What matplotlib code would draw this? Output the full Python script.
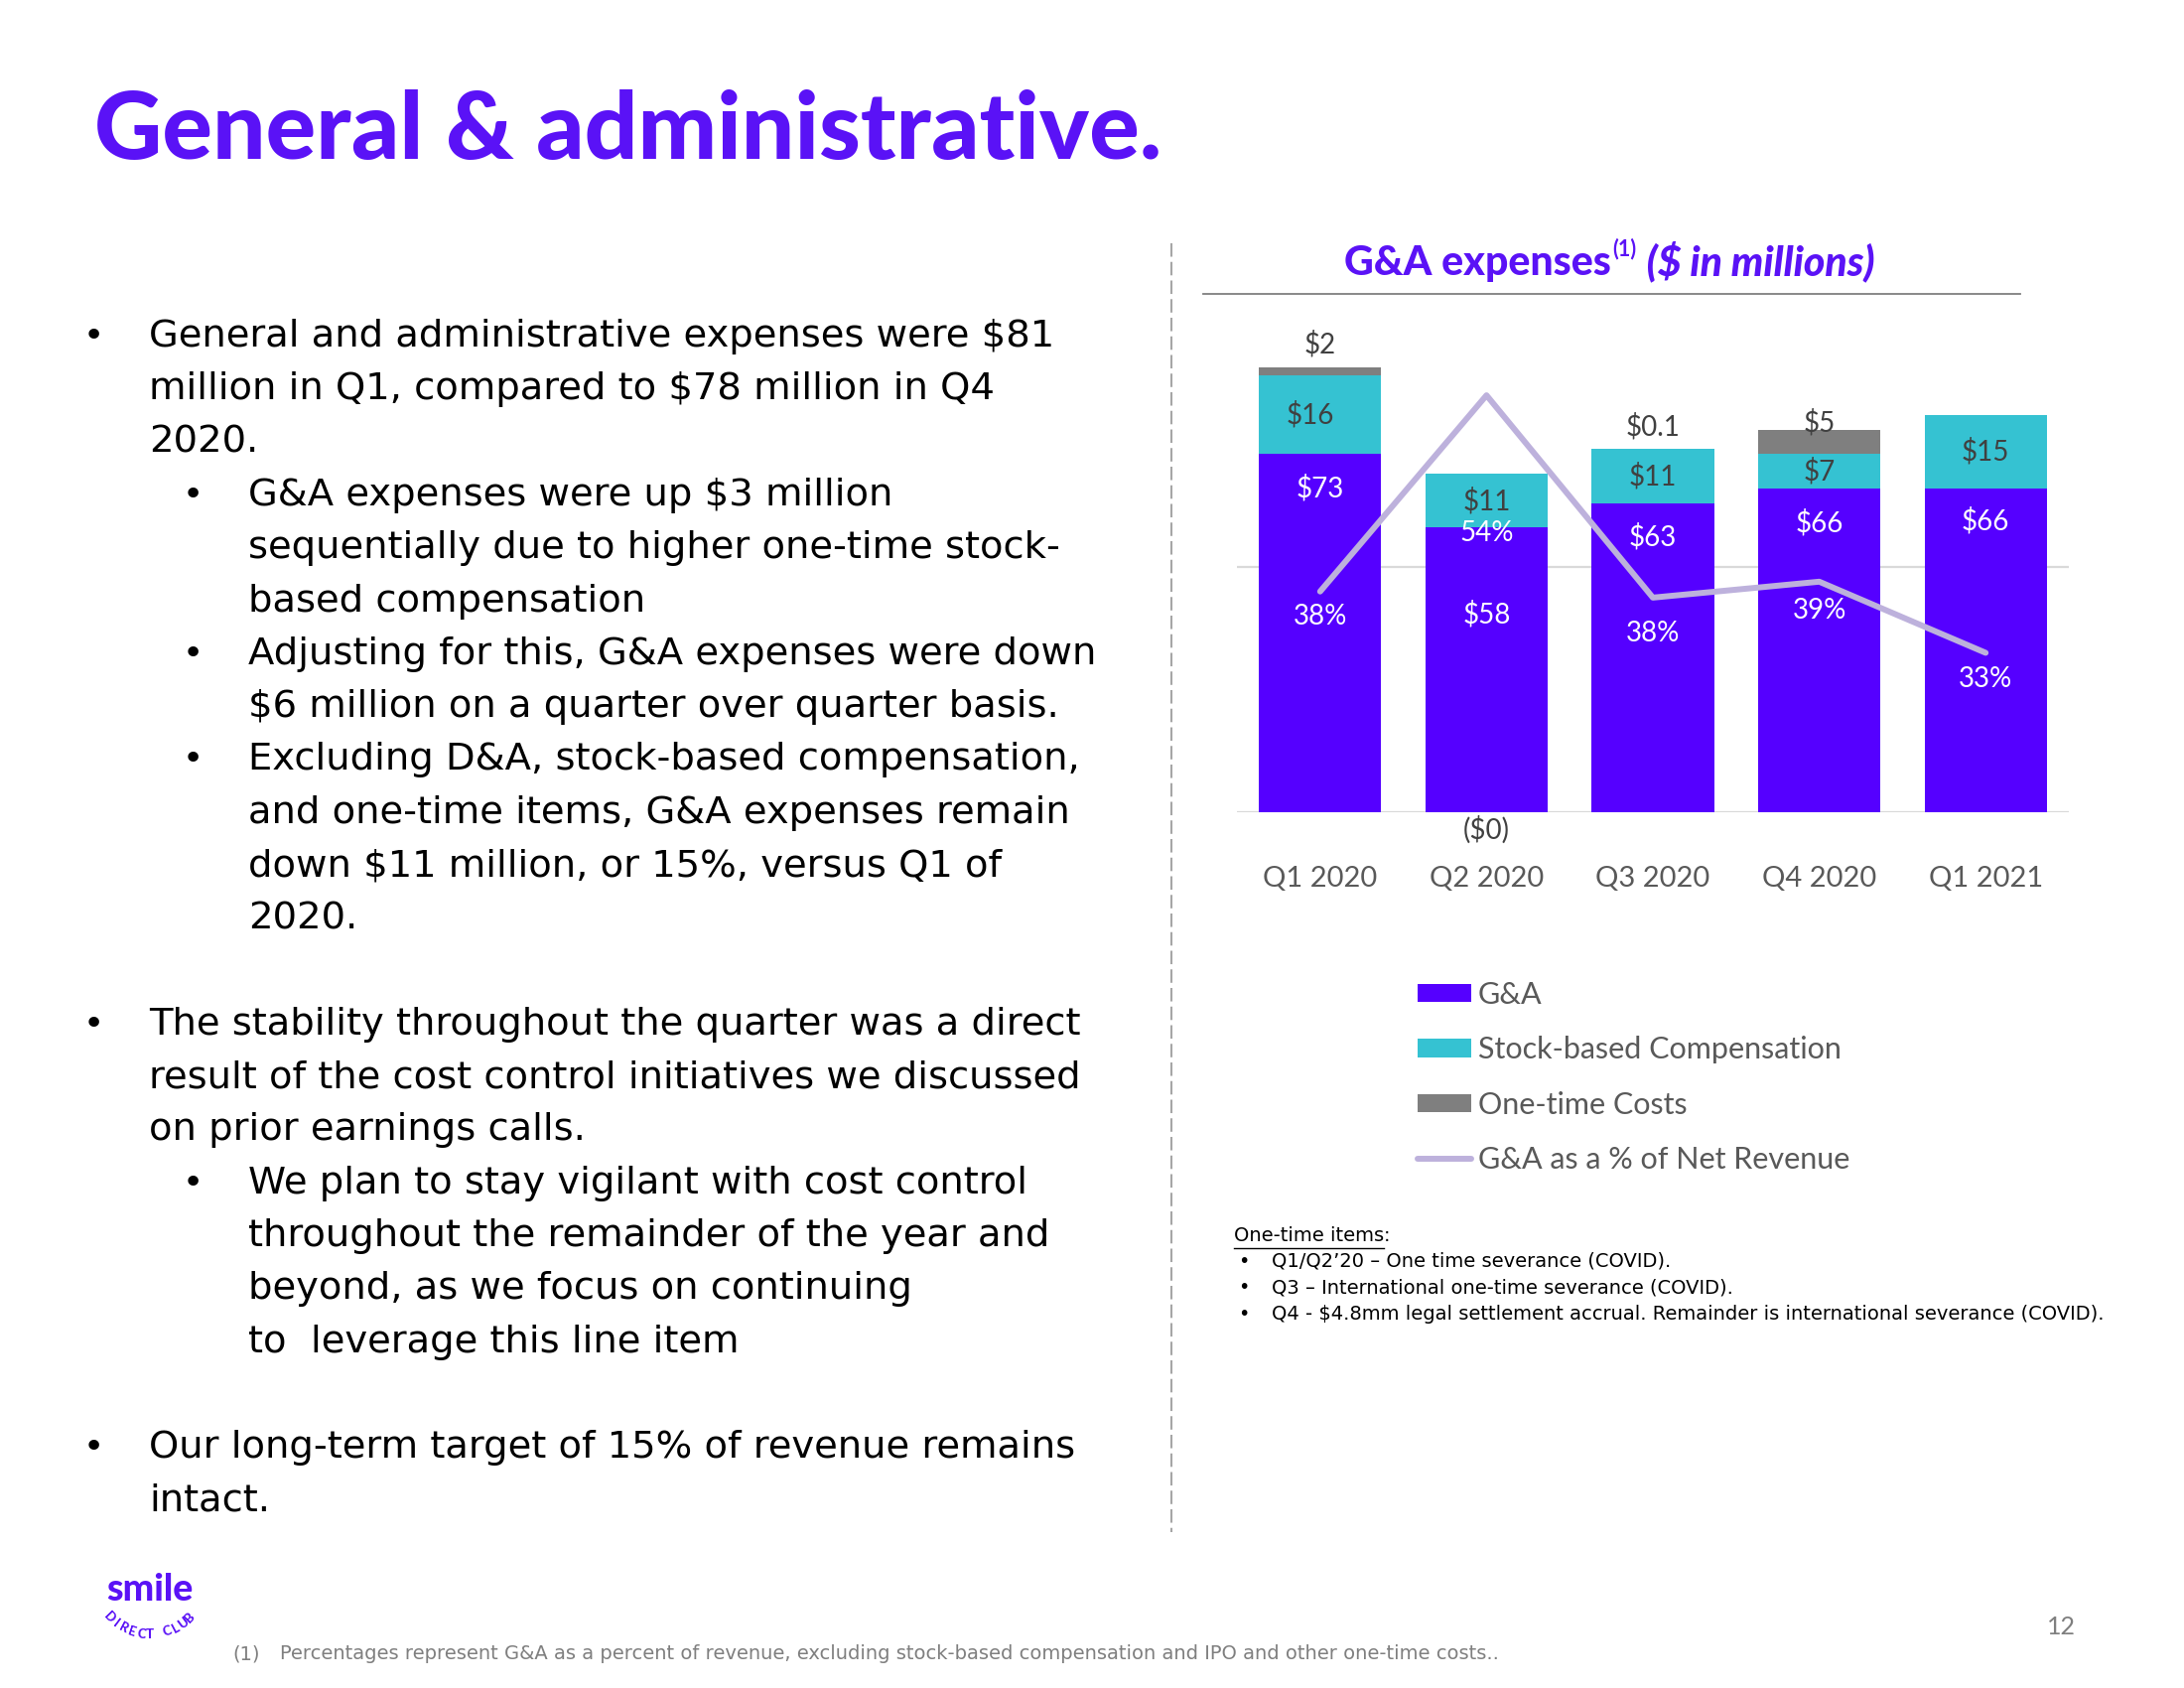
import matplotlib
matplotlib.use("Agg")
import matplotlib.pyplot as plt
import numpy as np
from matplotlib.lines import Line2D

W, H = 2200, 1700

# chart data
quarters = ["Q1 2020", "Q2 2020", "Q3 2020", "Q4 2020", "Q1 2021"]
ga = [73, 58, 63, 66, 66]
sbc = [16, 11, 11, 7, 15]
one_time = [1.6, 0.0, 0.1, 5, 0]
ga_pct = [38, 54, 37.5, 38.8, 33]

ga_labels = ["$73", "$58", "$63", "$66", "$66"]
sbc_labels = ["$16", "$11", "$11", "$7", "$15"]
one_time_labels = ["$2", "($0)", "$0.1", "$5", ""]
pct_labels = ["38%", "54%", "38%", "39%", "33%"]

series_names = ["G&A", "Stock-based Compensation", "One-time Costs", "G&A as a % of Net Revenue"]

bullets = [
    (0, ["General and administrative expenses were $81",
         "million in Q1, compared to $78 million in Q4",
         "2020."]),
    (1, ["G&A expenses were up $3 million",
         "sequentially due to higher one-time stock-",
         "based compensation"]),
    (1, ["Adjusting for this, G&A expenses were down",
         "$6 million on a quarter over quarter basis."]),
    (1, ["Excluding D&A, stock-based compensation,",
         "and one-time items, G&A expenses remain",
         "down $11 million, or 15%, versus Q1 of",
         "2020."]),
    None,
    (0, ["The stability throughout the quarter was a direct",
         "result of the cost control initiatives we discussed",
         "on prior earnings calls."]),
    (1, ["We plan to stay vigilant with cost control",
         "throughout the remainder of the year and",
         "beyond, as we focus on continuing",
         "to  leverage this line item"]),
    None,
    (0, ["Our long-term target of 15% of revenue remains",
         "intact."]),
]

one_time_notes = [
    "Q1/Q2\u201920 \u2013 One time severance (COVID).",
    "Q3 \u2013 International one-time severance (COVID).",
    "Q4 - $4.8mm legal settlement accrual. Remainder is international severance (COVID).",
]

PURPLE = "#5500FF"
TITLE_PURPLE = "#5A12F6"
CYAN = "#35C2D2"
GRAY = "#7F7F7F"
LAVENDER = "#BDB1DC"
DARK = "#404040"
MID = "#595959"


def fx(px):
    return px / W


def fy(py):
    return 1 - py / H


def px2pt(px):
    return px * 0.72


fig = plt.figure(figsize=(22, 17), dpi=100)
fig.patch.set_facecolor("white")

# page title
fig.text(fx(95), fy(160), "General & administrative.", fontsize=68, fontweight="black",
         family="Lato", color=TITLE_PURPLE, va="baseline")

# left column bullets
line_h = 53.3
y0 = 349
row = 0
for item in bullets:
    if item is None:
        row += 1
        continue
    level, lines = item
    bx, tx = (84, 150) if level == 0 else (184, 250)
    fig.text(fx(bx), fy(y0 + row * line_h), "\u2022", fontsize=26, family="DejaVu Sans",
             color="black", va="baseline")
    for line in lines:
        fig.text(fx(tx), fy(y0 + row * line_h), line, fontsize=27.7, family="DejaVu Sans",
                 color="black", va="baseline", parse_math=False)
        row += 1

# dashed separator
fig.add_artist(Line2D([fx(1180), fx(1180)], [fy(245), fy(1543)], transform=fig.transFigure,
                      color="#A6A6A6", lw=1.5, linestyle=(0, (6.5, 2.5))))

# chart
ax = fig.add_axes([fx(1246), fy(818), (2084 - 1246) / W, (818 - 324) / H])
x = np.arange(len(quarters))
width = 0.734
ga_bars = ax.bar(x, ga, width, color=PURPLE, label=series_names[0], zorder=2)
sbc_bars = ax.bar(x, sbc, width, bottom=ga, color=CYAN, label=series_names[1], zorder=2)
top2 = np.add(ga, sbc)
ot_bars = ax.bar(x, one_time, width, bottom=top2, color=GRAY, label=series_names[2], zorder=2)
ax.set_ylim(0, 100)
ax.set_xlim(-0.5, len(quarters) - 0.5)
ax.set_yticks([0, 50])
ax.yaxis.grid(True, color="#D9D9D9", lw=1.6)
ax.set_axisbelow(True)
ax.set_xticks(x, quarters)
ax.tick_params(axis="x", length=0, pad=px2pt(54), labelsize=21, labelcolor=MID)
for lab in ax.get_xticklabels():
    lab.set_family("Lato")
for s in ax.spines.values():
    s.set_visible(False)

ax2 = ax.twinx()
ax2.set_ylim(20, 60)
pct_line, = ax2.plot(x, ga_pct, color=LAVENDER, lw=4.3, solid_capstyle="round",
                     solid_joinstyle="round", label=series_names[3])
ax2.set_yticks([])
for s in ax2.spines.values():
    s.set_visible(False)
ax.tick_params(axis="y", left=False, right=False, labelleft=False, labelright=False)

lab_kw = dict(textcoords="offset points", ha="center", va="center", fontsize=20,
              family="Lato", parse_math=False, annotation_clip=False)

ga_drop = [34, 87, 34, 35, 33]
for i in range(len(x)):
    ax.annotate(ga_labels[i], (x[i], ga[i]), xytext=(0, -px2pt(ga_drop[i])), color="white", **lab_kw)
    ax.annotate(sbc_labels[i], (x[i], ga[i] + sbc[i] / 2), xytext=(-px2pt(10) if i == 0 else 0, 0),
                color=DARK, **lab_kw)

ot_rise = [24, -18, 22, 7, 0]
for i in range(len(x)):
    if not one_time_labels[i]:
        continue
    base = 0 if one_time_labels[i].startswith("(") else top2[i] + one_time[i]
    ax.annotate(one_time_labels[i], (x[i], base), xytext=(0, px2pt(ot_rise[i])), color=DARK, **lab_kw)

pct_drop = [25, 139, 36, 29, 27]
for i in range(len(x)):
    ax2.annotate(pct_labels[i], (x[i], ga_pct[i]), xytext=(0, -px2pt(pct_drop[i])), color="white", **lab_kw)

# chart title
t1 = ax.annotate("G&A expenses", xy=(fx(1354), fy(277)), xycoords="figure fraction", fontsize=29.5,
                 fontweight="black", family="Lato", color=TITLE_PURPLE, va="baseline", ha="left")
t2 = ax.annotate("(1)", xy=(1, 0), xycoords=t1, xytext=(1, 16), textcoords="offset points",
                 fontsize=15.5, fontweight="bold", family="Lato", color=TITLE_PURPLE, va="bottom", ha="left")
ax.annotate(" ($ in millions)", xy=(1, 0), xycoords=t2, xytext=(1, -16), textcoords="offset points",
            fontsize=29.5, fontweight="black", fontstyle="italic", family="Lato", color=TITLE_PURPLE,
            va="bottom", ha="left", parse_math=False)
fig.add_artist(Line2D([fx(1212), fx(2035)], [fy(296), fy(296)], transform=fig.transFigure,
                      color="#7F7F7F", lw=1.3))

# legend
leg = fig.legend(handles=[ga_bars, sbc_bars, ot_bars, pct_line], loc="center left",
                 bbox_to_anchor=(fx(1428), fy(1085)), frameon=False,
                 prop={"family": "Lato", "size": 22}, labelcolor=MID, handlelength=1.77,
                 handleheight=0.56, handletextpad=0.22, labelspacing=0.9, borderpad=0,
                 borderaxespad=0)

# one-time items notes
note_kw = dict(fontsize=14, family="DejaVu Sans", color="black", va="baseline", parse_math=False)
head = fig.text(fx(1243), fy(1250), "One-time items", **note_kw)
fig.canvas.draw()
bb = head.get_window_extent()
fig.add_artist(Line2D([bb.x0 / W, bb.x1 / W], [(bb.y0 - 3) / H, (bb.y0 - 3) / H],
                      transform=fig.transFigure, color="black", lw=1))
fig.text(bb.x1 / W, fy(1250), ":", **note_kw)
for k, note in enumerate(one_time_notes):
    yy = 1276 + k * 26.5
    fig.text(fx(1247), fy(yy), "\u2022", **note_kw)
    fig.text(fx(1281), fy(yy), note, **note_kw)

# footnote
foot_kw = dict(fontsize=14, family="DejaVu Sans", color="#7F7F7F", va="baseline", parse_math=False)
fig.text(fx(234), fy(1671), "(1)", **foot_kw)
fig.text(fx(282), fy(1671),
         "Percentages represent G&A as a percent of revenue, excluding stock-based compensation "
         "and IPO and other one-time costs..", **foot_kw)

# page number
fig.text(fx(2076), fy(1639), "12", fontsize=18, family="Lato", color="#7F7F7F", ha="center", va="center")

# logo
fig.text(fx(151), fy(1601), "smile", fontsize=27, fontweight="black", family="Lato",
         color=TITLE_PURPLE, ha="center", va="center")
word = "DIRECT CLUB"
R, cx, cy = 56, 151, 1590
angles = np.linspace(-46, 46, len(word))
for ch, a in zip(word, angles):
    r = np.radians(a)
    fig.text(fx(cx + R * np.sin(r)), fy(cy + R * np.cos(r)), ch, fontsize=9.5, fontweight="black",
             family="Lato", color=TITLE_PURPLE, ha="center", va="center", rotation=a)

fig.savefig("out.png", dpi=100, facecolor="white")
